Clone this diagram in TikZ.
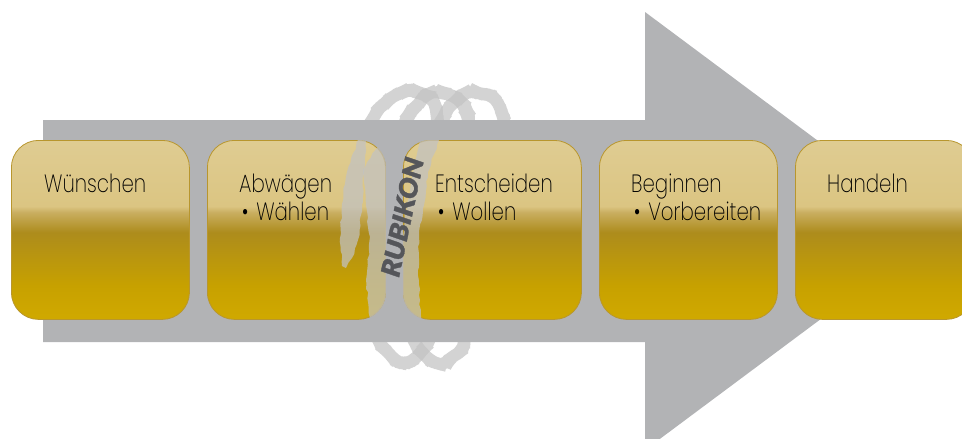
\documentclass[tikz,border=0pt]{standalone}
\usepackage{fontspec}
\setmainfont[FakeStretch=0.79]{Poppins ExtraLight}
\newfontfamily\stampfont[FakeBold=1.2,FakeSlant=0.12]{Lato Black}
\usetikzlibrary{
    positioning,
    calc,
    decorations.pathmorphing,
}
\definecolor{shaftgray}{HTML}{B2B3B5}
\definecolor{brushgray}{HTML}{C2C2C2}
\definecolor{boxedge}{HTML}{B8962E}
\definecolor{stampgray}{HTML}{55565A}
\definecolor{goldA}{HTML}{D0A900}
\definecolor{goldB}{HTML}{C7A100}
\definecolor{goldC}{HTML}{AD8C1C}
\definecolor{goldD}{HTML}{C9AE60}
\definecolor{goldE}{HTML}{DBC582}
\definecolor{goldF}{HTML}{DFCC92}
\pgfdeclareverticalshading{boxgold}{100bp}{
    color(0bp)=(goldA);
    color(25bp)=(goldA);
    color(34.5bp)=(goldB);
    color(49.3bp)=(goldC);
    color(54.9bp)=(goldD);
    color(56.6bp)=(goldE);
    color(75bp)=(goldF);
    color(100bp)=(goldF)
}

\begin{document}
\begin{tikzpicture}[
    x=1pt, y=-1pt,
    node distance=17.2pt,
    stepbox/.style={draw=boxedge, line width=0.8pt, rounded corners=27pt,
                minimum width=178pt, minimum height=179pt, inner sep=0pt,
                shading=boxgold},
    boxlabel/.style={align=left, inner sep=0pt, anchor=north west, text=black,
                font=\fontsize{25}{27.5}\selectfont},
    brushloop/.style={draw=brushgray, line width=12pt, opacity=0.72, line cap=round,
                rounded corners=8pt, decorate,
                decoration={random steps, segment length=5pt, amplitude=1.1pt}},
    brushstroke/.style={fill=brushgray, opacity=0.72, decorate,
                decoration={random steps, segment length=5pt, amplitude=1pt}},
]
\useasboundingbox (0,0) rectangle (962,439);
\pgfmathsetseed{7}

% loops showing above and below the shaft
\draw[brushloop] (368,128) .. controls (380,100) and (405,88) .. (420,94) .. controls (432,98) and (438,110) .. (438,128);
\draw[brushloop] (403,128) .. controls (412,105) and (430,90) .. (445,94) .. controls (460,98) and (470,112) .. (470,128);
\draw[brushloop] (438,128) .. controls (448,105) and (465,90) .. (480,93) .. controls (495,96) and (505,112) .. (505,128);
\draw[brushloop] (378,336) .. controls (385,358) and (405,368) .. (418,354) .. controls (424,348) and (428,345) .. (430,336);
\draw[brushloop] (412,336) .. controls (420,358) and (440,368) .. (452,358) .. controls (460,352) and (464,345) .. (465,336);

% big arrow
\fill[shaftgray] (43,120) -- (645,120) -- (645,12) -- (939,231) -- (645,450) -- (645,342) -- (43,342) -- cycle;

% the five steps
\node[stepbox, anchor=north west] at (11,140) (wuenschen) {};
\node[stepbox] (abwaegen) [right=of wuenschen] {};
\node[stepbox] (entscheiden) [right=of abwaegen] {};
\node[stepbox] (beginnen) [right=of entscheiden] {};
\node[stepbox] (handeln) [right=of beginnen] {};

% brush marks lying on the boxes
\begin{scope}
    \clip[rounded corners=27pt] (abwaegen.north west) rectangle (abwaegen.south east);
    \path[brushstroke] (358,140) -- (366,140) -- (364,172) -- (362,205) -- (358,240) -- (352,258) -- (346,268) -- (342,266) -- (340,238) -- (342,204) -- (347,172) -- cycle;
    \path[brushstroke] (378,146) -- (388,146) -- (388,318) -- (370,318) -- (366,280) -- (370,237) -- (366,205) -- (363,170) -- cycle;
\end{scope}
\begin{scope}
    \clip[rounded corners=27pt] (entscheiden.north west) rectangle (entscheiden.south east);
    \path[brushstroke] (420,140) -- (439,140) -- (428,172) -- (424,205) -- (419,237) -- (418,270) -- (420,300) -- (421,320) -- (408,320) -- (402,300) -- (402,240) -- (410,190) -- cycle;
\end{scope}

\node[rotate=78, text=stampgray] at (402,218) (rubikon) {\stampfont\fontsize{26}{26}\selectfont RUBIKON};

% box texts
\node[boxlabel] at ([xshift=33pt,yshift=-34pt]wuenschen.north west) (wuenschenText) {Wünschen};
\node[boxlabel] at ([xshift=32pt,yshift=-34pt]abwaegen.north west) (abwaegenText) {Abwägen\\\hspace*{3pt}•\hspace{8pt}Wählen};
\node[boxlabel] at ([xshift=32pt,yshift=-34pt]entscheiden.north west) (entscheidenText) {Entscheiden\\\hspace*{3pt}•\hspace{8pt}Wollen};
\node[boxlabel] at ([xshift=32pt,yshift=-34pt]beginnen.north west) (beginnenText) {Beginnen\\\hspace*{3pt}•\hspace{8pt}Vorbereiten};
\node[boxlabel] at ([xshift=32pt,yshift=-34pt]handeln.north west) (handelnText) {Handeln};

\end{tikzpicture}
\end{document}
